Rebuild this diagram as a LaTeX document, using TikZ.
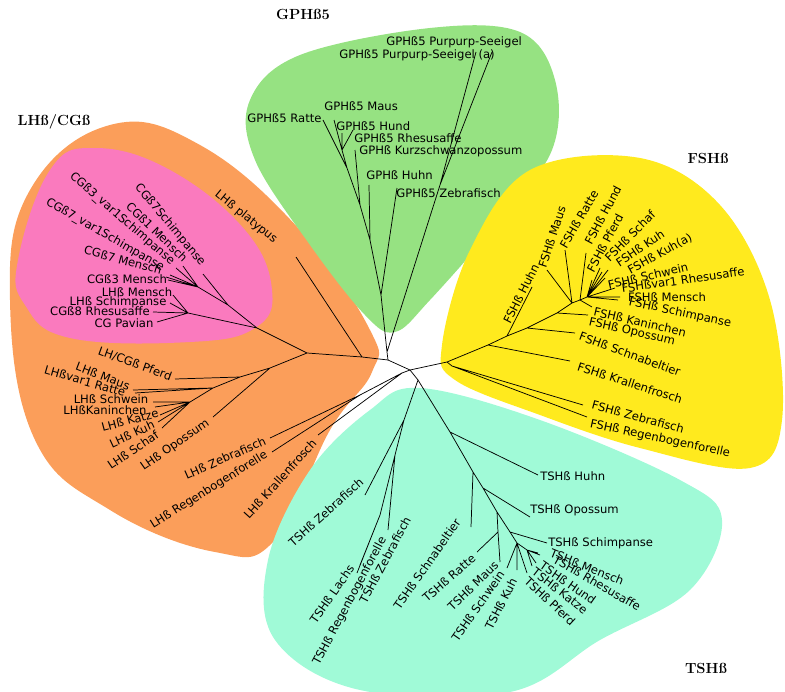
\documentclass[tikz,border=0pt]{standalone}
\usepackage{fontspec}
\newfontfamily\labfont{DejaVu Sans}
\begin{document}
\begin{tikzpicture}[x=0.75pt,y=-0.75pt,
 lab/.style={font=\labfont\fontsize{8.7}{9}\selectfont,inner sep=0pt},
 ttl/.style={font=\rmfamily\bfseries\fontsize{11}{12}\selectfont,inner sep=0pt},
 br/.style={line width=0.55pt,black},
 blob/.style={draw=none}]
\useasboundingbox (0,0) rectangle (785,692);
\definecolor{cOr}{RGB}{251,158,90}
\definecolor{cPk}{RGB}{250,122,190}
\definecolor{cGr}{RGB}{150,226,130}
\definecolor{cYe}{RGB}{255,234,30}
\definecolor{cCy}{RGB}{160,250,215}
% blobs
\fill[cOr] plot[smooth cycle,tension=0.7] coordinates {(10,300) (30,190) (110,125) (200,145) (300,230) (370,330) (372,372) (330,430) (275,540) (215,552) (110,510) (35,440)};
\fill[cPk] plot[smooth cycle,tension=0.7] coordinates {(18,260) (50,170) (95,148) (170,170) (245,230) (272,290) (255,328) (190,342) (70,338) (25,305)};
\fill[cGr] plot[smooth cycle,tension=0.6] coordinates {(250,100) (300,55) (430,28) (520,32) (555,80) (552,150) (500,220) (430,300) (395,332) (365,315) (310,245) (255,160)};
\fill[cYe] plot[smooth cycle,tension=0.6] coordinates {(442,345) (470,250) (530,170) (640,158) (720,205) (770,300) (782,420) (750,468) (640,448) (540,415) (455,380)};
\fill[cCy] plot[smooth cycle,tension=0.6] coordinates {(420,388) (540,420) (680,480) (722,520) (690,590) (600,640) (510,692) (360,690) (275,640) (268,560) (310,470) (370,410)};
% titles
\node[ttl] (tG) at (303,14) {GPHß5};
\node[ttl] (tL) at (54,122) {LHß/CGß};
\node[ttl] (tF) at (708,158) {FSHß};
\node[ttl] (tT) at (706,668) {TSHß};
% root
\coordinate (R1) at (388,360); \coordinate (R2) at (410,370);
\coordinate (F) at (402,373); \coordinate (T0) at (418,380);
\draw[br] (R1)--(R2) (R2)--(F) (R2)--(T0);
% ---- GPH
\foreach \n/\p in {G0/{387,352},G1/{381,295},G2/{370,240},G3/{360,205},G4/{347,168},G5/{342,150},S/{440,185},
 ge1/{476,52},ge2/{492,52},gzeb/{397,188},ghuhn/{369,185},gopo/{355,150},gratte/{323,120},gmaus/{334,120},ghund/{342,133},grhes/{353,130}}
 {\coordinate (\n) at (\p);}
\draw[br] (R1)--(G0) (G0)--(S) (S)--(ge1) (S)--(ge2) (G0)--(G1) (G1)--(gzeb) (G1)--(G2) (G2)--(ghuhn) (G2)--(G3) (G3)--(gopo) (G3)--(G4) (G4)--(gratte) (G4)--(G5) (G5)--(gmaus) (G5)--(ghund) (G5)--(grhes);
\node[lab,anchor=west] (lg1) at (386,42) {GPHß5 Purpurp-Seeigel};
\node[lab,anchor=west] (lg2) at (339,55) {GPHß5 Purpurp-Seeigel (a)};
\node[lab,anchor=west] (lg3) at (324,106) {GPHß5 Maus};
\node[lab,anchor=west] (lg4) at (247,118) {GPHß5 Ratte};
\node[lab,anchor=west] (lg5) at (336,126) {GPHß5 Hund};
\node[lab,anchor=west] (lg6) at (354,138) {GPHß5 Rhesusaffe};
\node[lab,anchor=west] (lg7) at (359,151) {GPHß Kurzschwanzopossum};
\node[lab,anchor=west] (lg8) at (366,175) {GPHß Huhn};
\node[lab,anchor=west] (lg9) at (396,193) {GPHß5 Zebrafisch};
% ---- LH
\foreach \n/\p in {LH0/{362,357},LH1/{307,353},lplat/{296,257},P0/{257,328},P1/{228,305},P2/{198,287},P3/{188,313},
 cgs/{203,274},cgm/{183,266},cg3v/{176,268},cg7v/{170,275},cg7m/{166,277},cg3m/{168,280},lhm/{173,295},lhs/{170,303},cg8/{153,312},cgp/{157,322},
 LH2/{270,368},LH3/{240,377},LH4/{213,388},LH5/{190,402},lpf/{175,379},lopo/{213,417},lma/{133,390},lra/{135,393},lsw/{153,402},lka/{155,407},lkz/{160,415},lku/{158,422},lsc/{162,428},
 F1/{360,395},lzeb/{270,438},lreg/{272,452},lkra/{318,435}}
 {\coordinate (\n) at (\p);}
\draw[br] (R1)--(LH0) (LH0)--(lplat) (LH0)--(LH1) (LH1)--(P0) (P0)--(P1) (P1)--(cgs) (P1)--(P2) (P2)--(cgm) (P2)--(cg3v) (P2)--(cg7v) (P2)--(cg7m) (P2)--(cg3m)
 (P0)--(P3) (P3)--(lhm) (P3)--(lhs) (P3)--(cg8) (P3)--(cgp)
 (LH1)--(LH2) (LH2)--(lopo) (LH2)--(LH3) (LH3)--(lpf) (LH3)--(LH4) (LH4)--(lma) (LH4)--(lra) (LH4)--(LH5) (LH5)--(lsw) (LH5)--(lka) (LH5)--(lkz) (LH5)--(lku) (LH5)--(lsc)
 (F)--(F1) (F1)--(lzeb) (F1)--(lreg) (F)--(lkra);
\node[lab,rotate=-39] (l1) at (246,217) {LHß platypus};
\node[lab,rotate=-50] (l2) at (170,225) {CGß7Schimpanse};
\node[lab,rotate=-44] (l3) at (157,232) {CGß1 Mensch};
\node[lab,rotate=-41] (l4) at (122,219) {CGß3\_var1Schimpanse};
\node[lab,rotate=-30] (l5) at (105,235) {CGß7\_var1Schimpanse};
\node[lab,rotate=-15] (l6) at (123,260) {CGß7 Mensch};
\node[lab] (l7) at (127,279) {CGß3 Mensch};
\node[lab] (l8) at (137,292) {LHß Mensch};
\node[lab] (l9) at (118,302) {LHß Schimpanse};
\node[lab] (l10) at (100,311) {CGß8 Rhesusaffe};
\node[lab] (l11) at (124,323) {CG Pavian};
\node[lab,rotate=-20] (l12) at (135,364) {LH/CGß Pferd};
\node[lab,rotate=-21] (l13) at (103,376) {LHß Maus};
\node[lab,rotate=-16] (l14) at (85,381) {LHßvar1 Ratte};
\node[lab] (l15) at (111,399) {LHß Schwein};
\node[lab] (l16) at (105,410) {LHßKaninchen};
\node[lab,rotate=15] (l17) at (130,420) {LHß Katze};
\node[lab,rotate=25] (l18) at (132,434) {LHß Kuh};
\node[lab,rotate=34] (l19) at (133,450) {LHß Schaf};
\node[lab,rotate=35] (l20) at (175,445) {LHß Opossum};
\node[lab,rotate=24] (l21) at (225,458) {LHß Zebrafisch};
\node[lab,rotate=32] (l22) at (209,490) {LHß Regenbogenforelle};
\node[lab,rotate=48] (l23) at (280,479) {LHß Krallenfrosch};
% ---- FSH
\foreach \n/\p in {FS0/{447,362},FSf/{452,366},T1/{488,345},T2/{507,336},T3/{527,328},T4/{557,313},T5/{572,303},T6/{580,300},T7/{587,297},
 fzeb/{583,405},freg/{587,417},fkra/{570,361},fsna/{575,333},fopo/{588,315},fkan/{592,307},fhuhn/{532,287},fmaus/{547,270},fratte/{565,250},fhund/{586,253},
 fpf/{592,280},fsc/{600,268},fku/{602,272},fkua/{608,270},fsw/{605,278},frh/{615,288},fme/{620,297},fsi/{618,300}}
 {\coordinate (\n) at (\p);}
\draw[br] (R2)--(FS0) (FS0)--(FSf) (FSf)--(fzeb) (FSf)--(freg) (FS0)--(T1) (T1)--(T2) (T2)--(T3) (T3)--(T4) (T4)--(T5) (T5)--(T6) (T6)--(T7)
 (T1)--(fkra) (T3)--(fsna) (T4)--(fopo) (T6)--(fkan) (T2)--(fhuhn) (T5)--(fmaus) (T5)--(fratte) (T6)--(fhund)
 (T7)--(fpf) (T7)--(fsc) (T7)--(fku) (T7)--(fkua) (T7)--(fsw) (T7)--(frh) (T7)--(fme) (T7)--(fsi);
\node[lab,rotate=63] (f1) at (521,294) {FSHß Huhn};
\node[lab,rotate=72] (f2) at (552,237) {FSHß Maus};
\node[lab,rotate=60] (f3) at (579,219) {FSHß Ratte};
\node[lab,rotate=62] (f4) at (603,215) {FSHß Hund};
\node[lab,rotate=62] (f5) at (605,243) {FSHß Pferd};
\node[lab,rotate=45] (f6) at (630,236) {FSHß Schaf};
\node[lab,rotate=34] (f7) at (640,248) {FSHß Kuh};
\node[lab,rotate=29] (f8) at (660,254) {FSHß Kuh(a)};
\node[lab,rotate=13] (f9) at (648,276) {FSHß Schwein};
\node[lab,rotate=8] (f10) at (683,280) {FSHßvar1 Rhesusaffe};
\node[lab] (f11) at (667,297) {FSHß Mensch};
\node[lab,rotate=-12] (f12) at (680,313) {FSHß Schimpanse};
\node[lab,rotate=-13] (f13) at (640,322) {FSHß Kaninchen};
\node[lab,rotate=-13] (f14) at (632,332) {FSHß Opossum};
\node[lab,rotate=-20] (f15) at (630,354) {FSHß Schnabeltier};
\node[lab,rotate=-18] (f16) at (630,383) {FSHß Krallenfrosch};
\node[lab,rotate=-15] (f17) at (638,417) {FSHß Zebrafisch};
\node[lab,rotate=-12] (f18) at (660,439) {FSHß Regenbogenforelle};
% ---- TSH
\foreach \n/\p in {U1/{450,432},U2/{473,472},U3/{483,488},U4/{497,512},U4a/{498,532},U5/{510,532},U6/{517,543},U7/{527,550},
 thu/{538,475},tsn/{471,527},top/{530,517},tra/{477,552},tma/{500,562},tsw/{507,568},tku/{517,570},tpf/{527,573},tka/{532,566},tho/{536,563},trh/{540,555},tme/{538,553},tsi/{547,543},
 V1/{404,420},V2/{395,455},V3/{380,515},tzeb/{365,495},tla/{357,573},tre/{360,565},tze2/{388,530}}
 {\coordinate (\n) at (\p);}
\draw[br] (T0)--(U1) (U1)--(U2) (U2)--(U3) (U3)--(U4) (U4)--(U5) (U5)--(U6) (U6)--(U7)
 (U1)--(thu) (U2)--(tsn) (U3)--(top) (U4)--(U4a) (U4a)--(tra) (U4a)--(tma) (U6)--(tsw) (U6)--(tku) (U6)--(tpf)
 (U7)--(tka) (U7)--(tho) (U7)--(trh) (U7)--(tme) (U5)--(tsi)
 (T0)--(V1) (V1)--(tzeb) (V1)--(V2) (V2)--(V3) (V3)--(tla) (V3)--(tre) (V2)--(tze2);
\node[lab,anchor=west] (t1) at (540,476) {TSHß Huhn};
\node[lab,anchor=west] (t2) at (530,510) {TSHß Opossum};
\node[lab,anchor=west] (t3) at (548,543) {TSHß Schimpanse};
\node[lab,rotate=55] (t4) at (427,564) {TSHß Schnabeltier};
\node[lab,rotate=41] (t5) at (449,578) {TSHß Ratte};
\node[lab,rotate=44] (t6) at (473,586) {TSHß Maus};
\node[lab,rotate=55] (t7) at (478,606) {TSHß Schwein};
\node[lab,rotate=63] (t8) at (501,604) {TSHß Kuh};
\node[lab,rotate=-43] (t9) at (550,601) {TSHß Pferd};
\node[lab,rotate=-38] (t10) at (560,591) {TSHß Katze};
\node[lab,rotate=-35] (t11) at (568,583) {TSHß Hund};
\node[lab,rotate=-30] (t12) at (597,583) {TSHß Rhesusaffe};
\node[lab,rotate=-22] (t13) at (587,567) {TSHß Mensch};
\node[lab,rotate=42] (t14) at (326,512) {TSHß Zebrafisch};
\node[lab,rotate=55] (t15) at (332,594) {TSHß Lachs};
\node[lab,rotate=62] (t16) at (350,601) {TSHß Regenbogenforelle};
\node[lab,rotate=62] (t17) at (385,560) {TSHß Zebrafisch};
\end{tikzpicture}
\end{document}
